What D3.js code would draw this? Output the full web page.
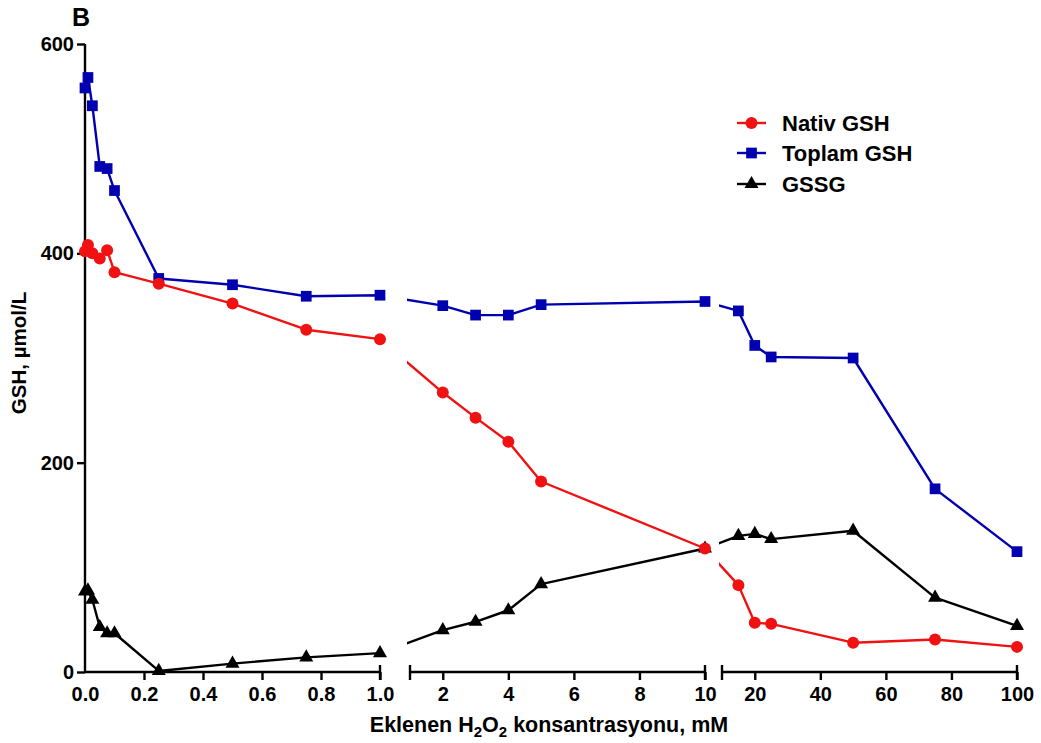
<!DOCTYPE html>
<html>
<head>
<meta charset="utf-8">
<script src="https://cdn.jsdelivr.net/npm/d3@7"></script>
<style>
  html, body { margin: 0; padding: 0; background: #fff; }
  svg { display: block; }
  text { font-family: "Liberation Sans", Arial, sans-serif; font-weight: bold; fill: #000; }
</style>
</head>
<body>
<svg id="chart" width="1041" height="743"></svg>
<script>
// ---- data ----
const xValues = [0, 0.01, 0.025, 0.05, 0.075, 0.1, 0.25, 0.5, 0.75, 1, 2, 3, 4, 5, 10, 15, 20, 25, 50, 75, 100];
const nativGSH = [402, 408, 400, 395, 403, 382, 371, 352, 327, 318, 267, 243, 220, 182, 118, 83, 47, 46, 28, 31, 24];
const toplamGSH = [558, 568, 541, 483, 481, 460, 376, 370, 359, 360, 350, 341, 341, 351, 354, 345, 312, 301, 300, 175, 115];
const gssg = [77, 78, 69, 43, 37, 37, 1, 8, 14, 18, 40, 48, 59, 84, 118, 130, 132, 127, 135, 71, 44];
const seriesNames = ["Nativ GSH", "Toplam GSH", "GSSG"];
const segDomains = [[0, 1], [1, 10], [10, 100]];
const segTicks = [[0, 0.2, 0.4, 0.6, 0.8, 1.0], [2, 4, 6, 8, 10], [20, 40, 60, 80, 100]];
const segTickFormats = [".1f", "d", "d"];
const yTicks = [0, 200, 400, 600];

// ---- layout ----
const svg = d3.select("#chart");
const segRanges = [[85, 380], [410, 705], [722, 1017]];
const segScales = segDomains.map((d, i) => d3.scaleLinear().domain(d).range(segRanges[i]));
const y = d3.scaleLinear().domain([0, 600]).range([672, 44]);
function segIndex(v) { return v <= 1 ? 0 : (v <= 10 ? 1 : 2); }
function xPos(v) { return segScales[segIndex(v)](v); }

const colors = ["#f01212", "#0000b0", "#000000"];
const seriesData = [nativGSH, toplamGSH, gssg];

// clip paths for each segment
const defs = svg.append("defs");
const clipRanges = [[0, 383], [407, 708], [719, 1041]];
clipRanges.forEach((r, i) => {
  defs.append("clipPath").attr("id", "clip" + i)
    .append("rect").attr("x", r[0]).attr("y", 0).attr("width", r[1] - r[0]).attr("height", 743);
});

// ---- axes ----
const axisG = svg.append("g");
// y axis
const yAxis = d3.axisLeft(y).tickValues(yTicks).tickSize(8).tickPadding(3).tickFormat(d3.format("d"));
const yg = axisG.append("g").attr("transform", "translate(85,0)").call(yAxis);
yg.select(".domain").attr("d", `M0,${y(600)}V${y(0)}`);

// x axis segments
segScales.forEach((s, i) => {
  const ax = d3.axisBottom(s).tickValues(segTicks[i]).tickSize(8).tickPadding(7)
    .tickFormat(d3.format(segTickFormats[i]));
  const g = axisG.append("g").attr("transform", "translate(0,672)").call(ax);
  const r = segRanges[i];
  g.select(".domain").attr("d", `M${r[0]},0H${r[1]}`);
  if (i > 0) {
    g.append("line").attr("x1", r[0]).attr("x2", r[0]).attr("y1", -7).attr("y2", 8);
  }
  g.append("line").attr("x1", r[1]).attr("x2", r[1]).attr("y1", -7).attr("y2", 8);
  if (i === 0) {
    g.selectAll(".tick").filter(d => d === 0).select("line").remove();
  }
});
axisG.selectAll(".domain, line").attr("stroke", "#000").attr("stroke-width", 2.4);
axisG.selectAll(".tick text").style("font-size", "20px").style("font-family", "'Liberation Sans', Arial, sans-serif").style("font-weight", "bold");

// ---- series ----
const line = d3.line().x((d, i) => xPos(xValues[i])).y(d => y(d));
seriesData.forEach((vals, si) => {
  for (let c = 0; c < 3; c++) {
    svg.append("path").datum(vals)
      .attr("clip-path", `url(#clip${c})`)
      .attr("fill", "none").attr("stroke", colors[si]).attr("stroke-width", 2.4)
      .attr("stroke-linejoin", "round")
      .attr("d", line);
  }
});

function drawMarker(g, si, cx, cy) {
  if (si === 0) {
    g.append("circle").attr("cx", cx).attr("cy", cy).attr("r", 6).attr("fill", colors[0]);
  } else if (si === 1) {
    g.append("path").attr("transform", `translate(${cx},${cy})`)
      .attr("d", d3.symbol(d3.symbolSquare, 115)()).attr("fill", colors[1]);
  } else {
    g.append("path").attr("transform", `translate(${cx},${cy})`)
      .attr("d", d3.symbol(d3.symbolTriangle, 85)()).attr("fill", colors[2]);
  }
}

const markG = svg.append("g");
[2, 1, 0].forEach(si => {
  seriesData[si].forEach((v, i) => drawMarker(markG, si, xPos(xValues[i]), y(v)));
});

// ---- legend ----
const legY = [123, 153, 184];
const leg = svg.append("g");
seriesNames.forEach((name, i) => {
  leg.append("line").attr("x1", 737).attr("x2", 766).attr("y1", legY[i]).attr("y2", legY[i])
    .attr("stroke", colors[i]).attr("stroke-width", 2.4);
  drawMarker(leg, i, 751.5, legY[i]);
  leg.append("text").attr("x", 782).attr("y", legY[i]).attr("dy", "0.36em")
    .style("font-size", "22px").text(name);
});

// ---- titles ----
svg.append("text").attr("x", 72).attr("y", 26).style("font-size", "25px").text("B");

svg.append("text").attr("transform", "translate(26,353) rotate(-90)")
  .attr("text-anchor", "middle").style("font-size", "20.5px").text("GSH, µmol/L");

const xt = svg.append("text").attr("x", 549).attr("y", 732).attr("text-anchor", "middle").style("font-size", "21.5px");
xt.append("tspan").text("Eklenen H");
xt.append("tspan").attr("dy", 5).style("font-size", "15px").text("2");
xt.append("tspan").attr("dy", -5).text("O");
xt.append("tspan").attr("dy", 5).style("font-size", "15px").text("2");
xt.append("tspan").attr("dy", -5).text(" konsantrasyonu, mM");
</script>
</body>
</html>
